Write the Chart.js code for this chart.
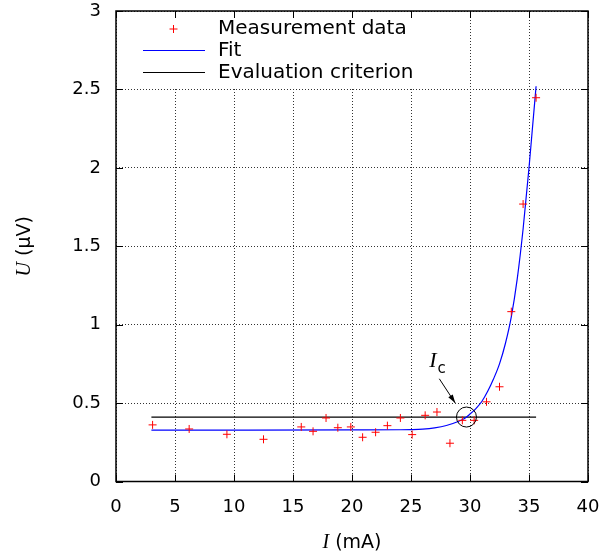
<!DOCTYPE html>
<html>
<head>
<meta charset="utf-8">
<script src="https://cdn.jsdelivr.net/npm/chart.js@4/dist/chart.umd.min.js"></script>
<style>
html,body{margin:0;padding:0;background:#fff;}
#wrap{width:605px;height:557px;}
</style>
</head>
<body>
<div id="wrap"><canvas id="c" width="605" height="557"></canvas></div>
<script>
// Measurement data (I in mA, U in µV)
const currentI = [3.1, 6.2, 9.4, 12.5, 15.7, 16.7, 17.8, 18.8, 19.9, 20.9, 22.0, 23.0, 24.1, 25.1, 26.2, 27.2, 28.3, 29.35, 30.35, 31.4, 32.5, 33.5, 34.5, 35.6];
const voltageU = [0.361, 0.335, 0.301, 0.269, 0.348, 0.32, 0.405, 0.343, 0.348, 0.282, 0.314, 0.356, 0.405, 0.299, 0.422, 0.443, 0.244, 0.39, 0.39, 0.508, 0.604, 1.083, 1.769, 2.447];
// Fit curve
const fitI = [3, 10, 20, 24, 25, 26, 27, 28, 29, 29.5, 30, 30.5, 31, 31.5, 32, 32.5, 33, 33.5, 34, 34.5, 35, 35.3, 35.6];
const fitU = [0.328, 0.328, 0.329, 0.330, 0.331, 0.334, 0.342, 0.357, 0.383, 0.40, 0.43, 0.465, 0.51, 0.575, 0.655, 0.75, 0.88, 1.05, 1.29, 1.61, 2.00, 2.26, 2.52];
// Evaluation criterion
const critI = [3, 35.6];
const critU = [0.411, 0.411];
// Critical current marker
const icI = [29.7];
const icU = [0.411];
// Ticks
const xTicks = [0, 5, 10, 15, 20, 25, 30, 35, 40];
const yTicks = [0, 0.5, 1, 1.5, 2, 2.5, 3];
const legendLabels = ['Measurement data', 'Fit', 'Evaluation criterion'];

const SANS = '"DejaVu Sans", sans-serif';
const SERIF = '"Liberation Serif", serif';

const toXY = (xs, ys) => xs.map((v, i) => ({x: v, y: ys[i]}));

const overlay = {
  id: 'overlay',
  afterDraw(chart) {
    const {ctx, chartArea: a, scales: {x, y}} = chart;
    ctx.save();
    // legend background (hides grid behind the key)
    ctx.fillStyle = '#fff';
    ctx.fillRect(a.left + 1, a.top + 1, 300, y.getPixelForValue(2.5) - a.top - 3);

    // inward ticks on all four sides
    ctx.strokeStyle = '#000';
    ctx.lineWidth = 1;
    ctx.beginPath();
    const tl = 7;
    xTicks.forEach(v => {
      const px = Math.round(x.getPixelForValue(v)) + 0.5;
      ctx.moveTo(px, a.bottom); ctx.lineTo(px, a.bottom - tl);
      ctx.moveTo(px, a.top); ctx.lineTo(px, a.top + tl);
    });
    yTicks.forEach(v => {
      const py = Math.round(y.getPixelForValue(v)) + 0.5;
      ctx.moveTo(a.left, py); ctx.lineTo(a.left + tl, py);
      ctx.moveTo(a.right, py); ctx.lineTo(a.right - tl, py);
    });
    ctx.stroke();
    // frame
    ctx.lineWidth = 1.5;
    ctx.strokeRect(a.left, a.top, a.right - a.left, a.bottom - a.top);

    // legend
    ctx.font = '20px ' + SANS;
    ctx.textBaseline = 'middle';
    ctx.textAlign = 'left';
    ctx.fillStyle = '#000';
    const rows = [28.5, 50.5, 72.5];
    const tx = 218;
    legendLabels.forEach((t, i) => ctx.fillText(t, tx, rows[i]));
    // marker
    ctx.strokeStyle = '#ff0000';
    ctx.lineWidth = 1;
    ctx.beginPath();
    ctx.moveTo(173.5 - 4, rows[0] + 0.5); ctx.lineTo(173.5 + 4, rows[0] + 0.5);
    ctx.moveTo(173.5, rows[0] - 3.5); ctx.lineTo(173.5, rows[0] + 4.5);
    ctx.stroke();
    ctx.strokeStyle = '#0000ff';
    ctx.beginPath(); ctx.moveTo(143, rows[1]); ctx.lineTo(205, rows[1]); ctx.stroke();
    ctx.strokeStyle = '#000';
    ctx.beginPath(); ctx.moveTo(143, rows[2]); ctx.lineTo(205, rows[2]); ctx.stroke();

    // I_c annotation
    const lx = x.getPixelForValue(26.55), ly = y.getPixelForValue(0.78);
    ctx.fillStyle = '#000';
    ctx.textBaseline = 'alphabetic';
    ctx.font = 'italic 22px ' + SERIF;
    ctx.fillText('I', lx, ly + 8);
    const iw = ctx.measureText('I').width;
    ctx.font = '15px ' + SANS;
    ctx.fillText('c', lx + iw + 1, ly + 14);
    // arrow
    const ax0 = x.getPixelForValue(27.4), ay0 = y.getPixelForValue(0.655);
    const ax1 = x.getPixelForValue(28.75), ay1 = y.getPixelForValue(0.50);
    ctx.strokeStyle = '#000';
    ctx.lineWidth = 1;
    ctx.beginPath(); ctx.moveTo(ax0, ay0); ctx.lineTo(ax1, ay1); ctx.stroke();
    const ang = Math.atan2(ay1 - ay0, ax1 - ax0);
    const hl = 9, hw = 0.3;
    ctx.beginPath();
    ctx.moveTo(ax1, ay1);
    ctx.lineTo(ax1 - hl * Math.cos(ang - hw), ay1 - hl * Math.sin(ang - hw));
    ctx.lineTo(ax1 - hl * Math.cos(ang + hw), ay1 - hl * Math.sin(ang + hw));
    ctx.closePath();
    ctx.fillStyle = '#000';
    ctx.fill();

    // axis titles
    ctx.textBaseline = 'middle';
    ctx.fillStyle = '#000';
    ctx.font = 'italic 20px ' + SERIF;
    const wI = ctx.measureText('I').width;
    ctx.font = '19px ' + SANS;
    const wRest = ctx.measureText(' (mA)').width;
    const cx = (a.left + a.right) / 2;
    let sx = cx - (wI + wRest) / 2;
    ctx.font = 'italic 20px ' + SERIF;
    ctx.fillText('I', sx, 543);
    ctx.font = '19px ' + SANS;
    ctx.fillText(' (mA)', sx + wI, 543);

    ctx.save();
    ctx.translate(25, (a.top + a.bottom) / 2);
    ctx.rotate(-Math.PI / 2);
    ctx.font = 'italic 20px ' + SERIF;
    const wU = ctx.measureText('U').width;
    ctx.font = '19px ' + SANS;
    const wR = ctx.measureText(' (µV)').width;
    const s2 = -(wU + wR) / 2;
    ctx.font = 'italic 20px ' + SERIF;
    ctx.fillText('U', s2, 0);
    ctx.font = '19px ' + SANS;
    ctx.fillText(' (µV)', s2 + wU, 0);
    ctx.restore();

    ctx.restore();
  }
};

new Chart(document.getElementById('c'), {
  type: 'scatter',
  data: {
    datasets: [
      {
        label: legendLabels[0],
        data: toXY(currentI, voltageU),
        showLine: false,
        pointStyle: 'cross',
        pointRadius: 4,
        pointBorderWidth: 1,
        borderColor: '#ff0000',
        backgroundColor: '#ff0000',
        order: 1
      },
      {
        label: legendLabels[1],
        data: toXY(fitI, fitU),
        showLine: true,
        cubicInterpolationMode: 'monotone',
        pointRadius: 0,
        borderColor: '#0000ff',
        borderWidth: 1.2,
        order: 2
      },
      {
        label: legendLabels[2],
        data: toXY(critI, critU),
        showLine: true,
        pointRadius: 0,
        borderColor: '#000000',
        borderWidth: 1.3,
        order: 3
      },
      {
        label: 'Ic',
        data: toXY(icI, icU),
        showLine: false,
        pointStyle: 'circle',
        pointRadius: 10,
        pointBorderWidth: 1,
        borderColor: '#000000',
        backgroundColor: 'rgba(0,0,0,0)',
        order: 0
      }
    ]
  },
  options: {
    responsive: false,
    animation: false,
    events: [],
    layout: {padding: {left: 0, right: 17, top: 10, bottom: 0}},
    plugins: {legend: {display: false}, tooltip: {enabled: false}},
    scales: {
      x: {
        type: 'linear',
        min: 0, max: 40,
        afterBuildTicks: s => { s.ticks = xTicks.map(v => ({value: v})); },
        afterFit: s => { s.height = 75.5; s.paddingLeft = 0; s.paddingRight = 0; s.paddingTop = 0; s.paddingBottom = 0; },
        border: {display: false, dash: [1, 2]},
        grid: {color: '#333', lineWidth: 1, drawTicks: false},
        ticks: {color: '#000', font: {family: SANS, size: 18}, padding: 15, maxRotation: 0}
      },
      y: {
        type: 'linear',
        min: 0, max: 3,
        afterBuildTicks: s => { s.ticks = yTicks.map(v => ({value: v})); },
        afterFit: s => { s.width = 116; s.paddingLeft = 0; s.paddingRight = 0; s.paddingTop = 0; s.paddingBottom = 0; },
        border: {display: false, dash: [1, 2]},
        grid: {color: '#333', lineWidth: 1, drawTicks: false},
        ticks: {color: '#000', font: {family: SANS, size: 18}, padding: 15,
          callback: v => String(v)}
      }
    }
  },
  plugins: [overlay]
});
</script>
</body>
</html>
